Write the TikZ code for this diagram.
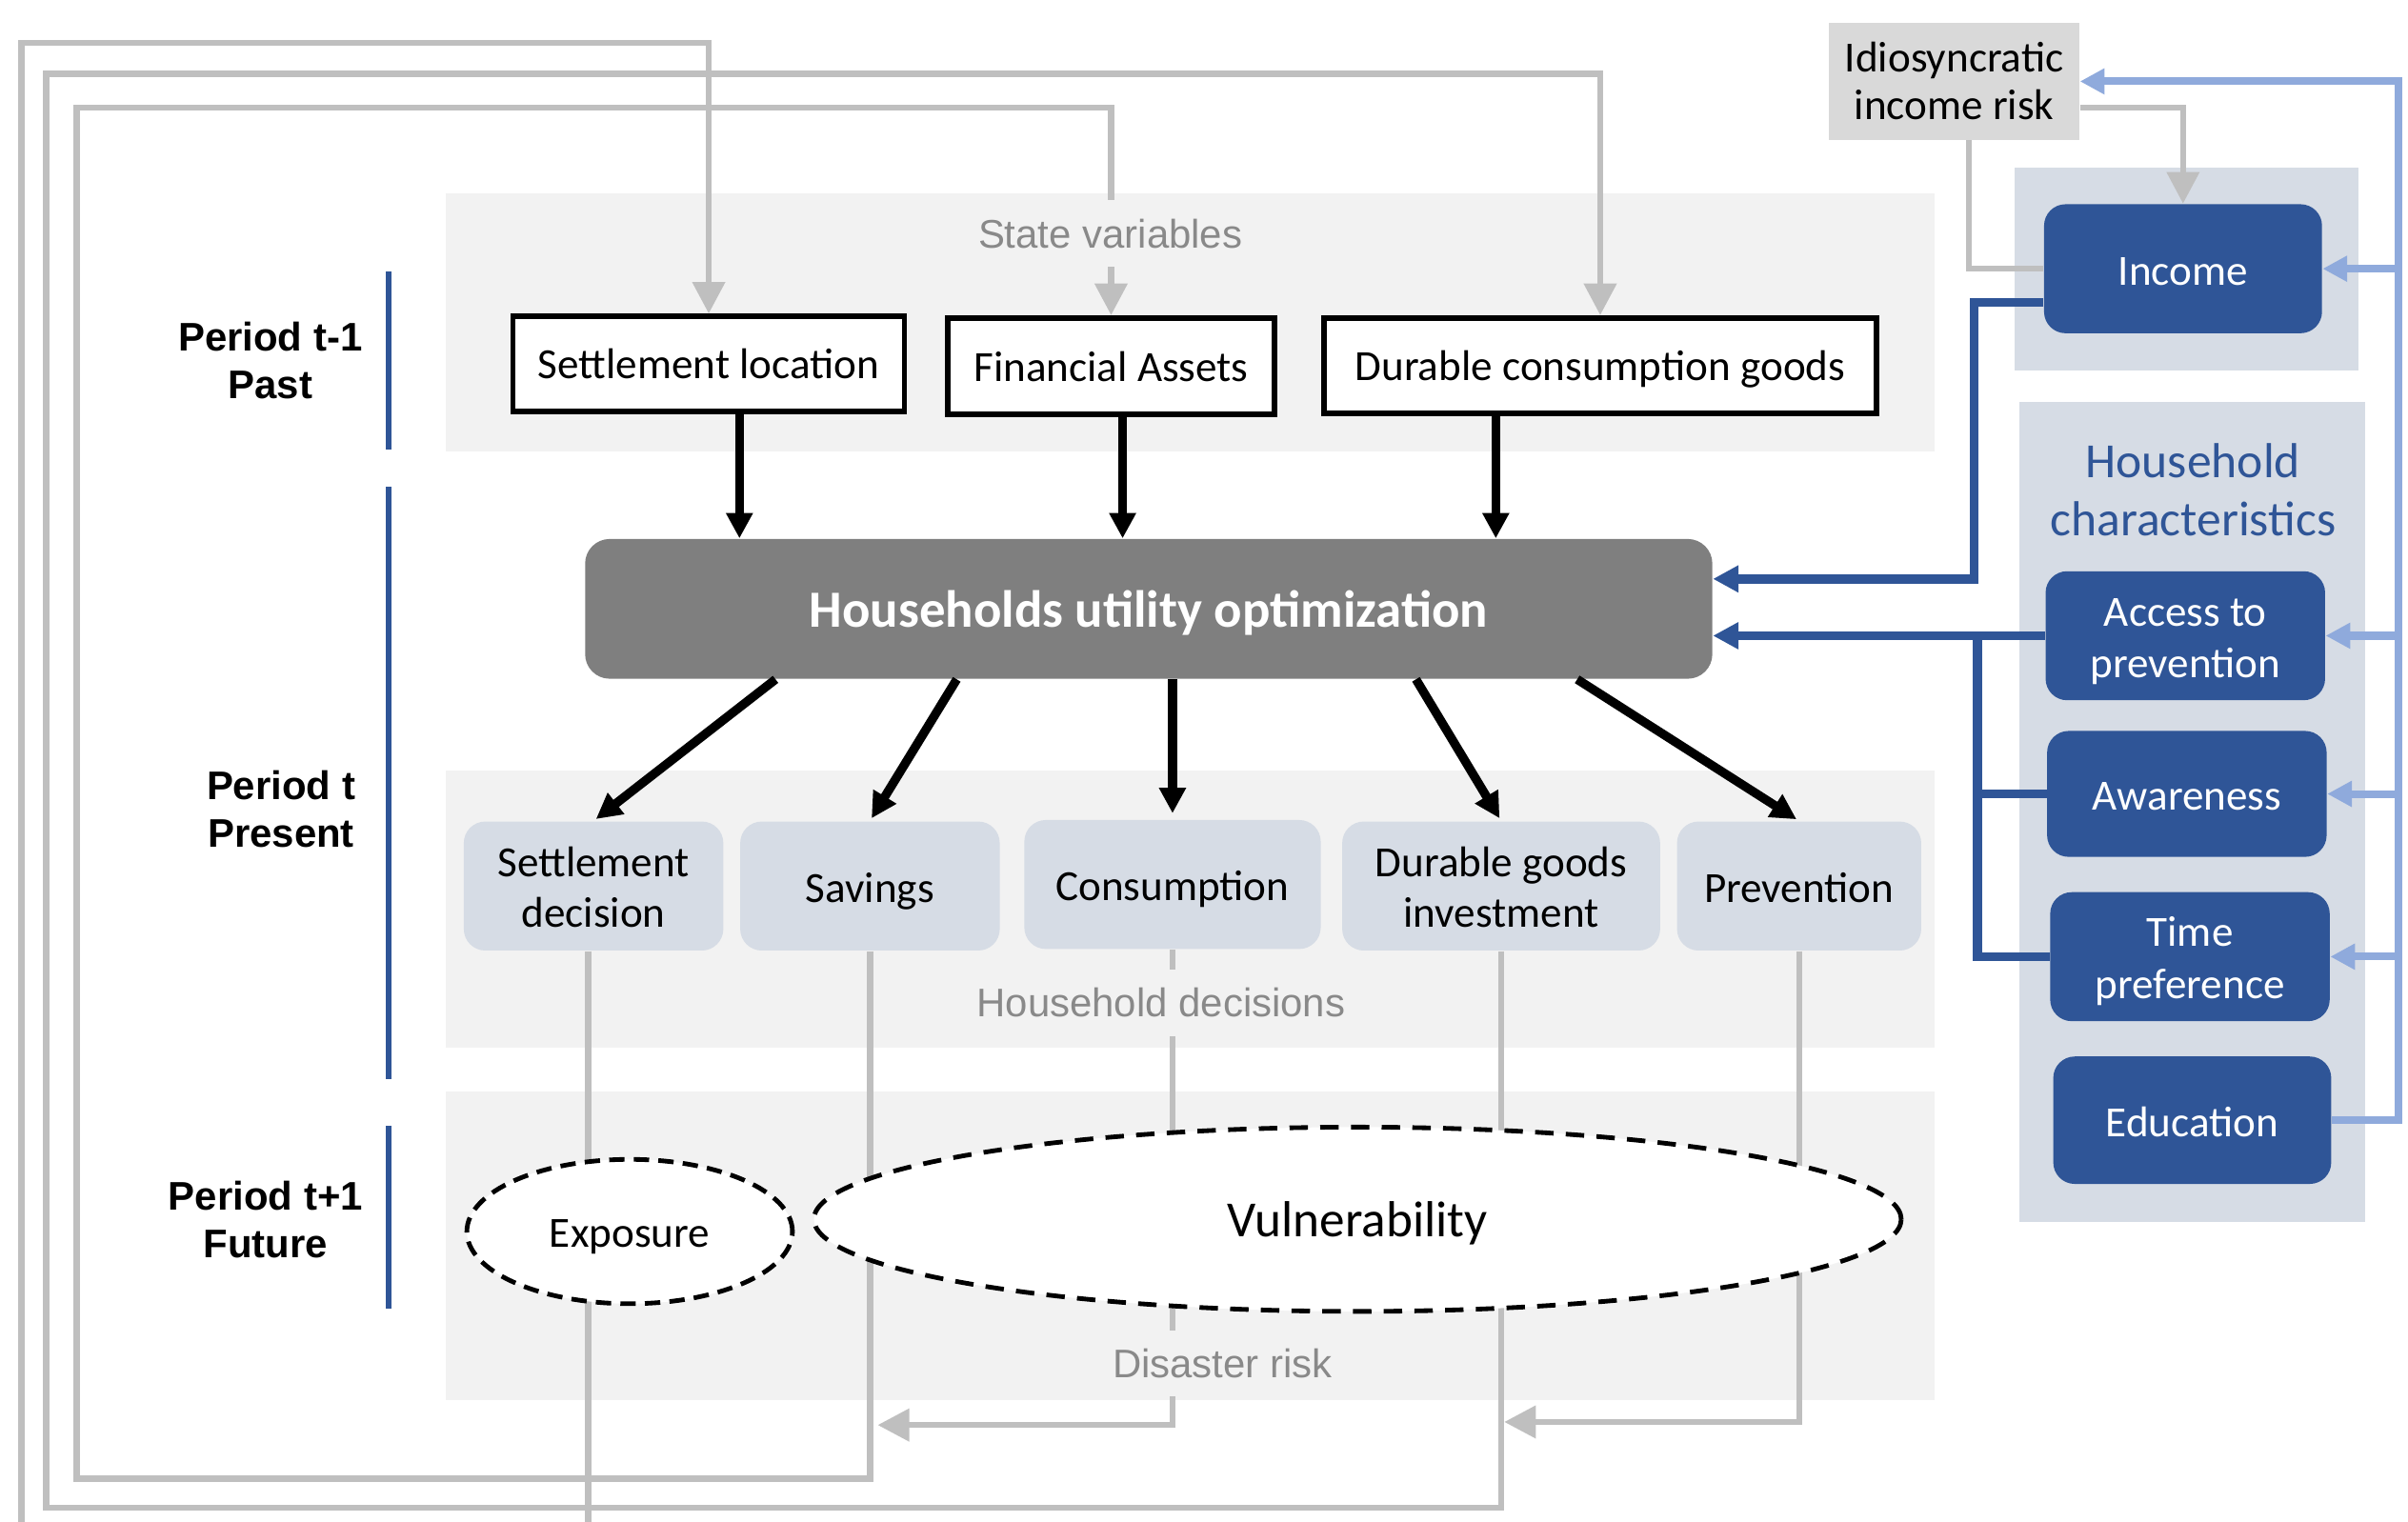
\documentclass[tikz,border=0pt]{standalone}
\usepackage{fontspec}
\setmainfont{Carlito}
\newfontfamily\arialfont{Liberation Sans}
\usetikzlibrary{arrows.meta,shapes.geometric}

\definecolor{darkblue}{HTML}{2F5597}
\definecolor{lightblue}{HTML}{8FAADC}
\definecolor{panelblue}{HTML}{D6DCE5}
\definecolor{panelgray}{HTML}{F2F2F2}
\definecolor{linegray}{HTML}{BFBFBF}
\definecolor{labelgray}{HTML}{898989}
\definecolor{boxgray}{HTML}{7F7F7F}
\definecolor{riskgray}{HTML}{D9D9D9}

\tikzset{
  statebox/.style={draw=black,line width=1.75pt,fill=white,inner sep=0pt,
    text height=9.8pt,text depth=0pt,font=\fontsize{14}{17}\selectfont},
  decbox/.style={fill=panelblue,rounded corners=7pt,inner sep=0pt,align=center,
    text height=10.5pt,text depth=0pt,font=\fontsize{14}{16.5}\selectfont},
  decpair/.style={decbox,text height=27pt},
  charbox/.style={fill=darkblue,text=white,rounded corners=7pt,inner sep=0pt,
    align=center,text height=10.5pt,text depth=0pt,font=\fontsize{14}{17}\selectfont},
  charpair/.style={charbox,text height=27.5pt},
  panellabel/.style={fill=panelgray,text=labelgray,inner xsep=3pt,inner ysep=6pt,
    font=\arialfont\fontsize{13}{15}\selectfont},
  periodlabel/.style={align=center,font=\arialfont\bfseries\fontsize{13}{15.5}\selectfont},
  outcome/.style={draw=black,ellipse,line width=1.5pt,fill=white,inner sep=0pt,text depth=0pt},
  blk/.style={draw=black,line width=2.9pt,-{Triangle[width=8.3pt,length=8.3pt]}},
  fb/.style={draw=linegray,line width=2pt},
  fbarrow/.style={fb,-{Triangle[width=10.3pt,length=10.3pt]}},
  dbline/.style={draw=darkblue,line width=2.9pt},
  dbarrow/.style={dbline,-{Triangle[width=8.3pt,length=8.3pt]}},
  lbarrow/.style={draw=lightblue,line width=2.5pt,-{Triangle[width=8pt,length=8pt]}}
}

\begin{document}
\begin{tikzpicture}[x=0.5pt,y=-0.5pt]
  \useasboundingbox (0,0) rectangle (1568,991);

  % Panels
  \fill[panelgray] (290,126) rectangle (1260,294);
  \fill[panelgray] (290,502) rectangle (1260,682);
  \fill[panelgray] (290,711) rectangle (1260,912);
  \fill[panelblue] (1312,109) rectangle (1536,241);
  \fill[panelblue] (1315,262) rectangle (1540,796);

  % Periods
  \node[periodlabel] (pastlbl) at (176,235) {Period t-1\\Past};
  \node[periodlabel] (preslbl) at (183,527) {Period t\\Present};
  \node[periodlabel] (futlbl) at (173,794) {Period t+1\\Future};
  \draw[darkblue,line width=2pt] (253,177) -- (253,293);
  \draw[darkblue,line width=2pt] (253,317) -- (253,703);
  \draw[darkblue,line width=2pt] (253,733) -- (253,852);

  % State variables
  \node[statebox,minimum width=127.5pt,minimum height=31pt] (sloc) at (461.5,237) {Settlement location};
  \node[statebox,minimum width=106.5pt,minimum height=31.5pt] (fin) at (723.5,238.5) {Financial Assets};
  \node[statebox,minimum width=180pt,minimum height=31pt] (dur) at (1042,238) {Durable consumption goods};

  % Optimization and decisions
  \node[fill=boxgray,text=white,rounded corners=8pt,inner sep=0pt,minimum width=367pt,minimum height=45.5pt,
    text height=11.9pt,text depth=0pt,font=\bfseries\fontsize{17}{20}\selectfont] (util) at (748,396.5)
    {Households utility optimization};
  \node[decpair,minimum width=84.5pt,minimum height=42pt] (sdec) at (386.5,577) {Settlement\\decision};
  \node[decbox,minimum width=84.5pt,minimum height=42pt] (sav) at (566.5,577) {Savings};
  \node[decbox,minimum width=96.5pt,minimum height=42pt] (cons) at (763.5,576) {Consumption};
  \node[decpair,minimum width=103.5pt,minimum height=42pt] (dinv) at (977.5,577) {Durable goods\\investment};
  \node[decbox,minimum width=79.5pt,minimum height=42pt] (prev) at (1171.5,577) {Prevention};

  % Household side
  \node[fill=riskgray,inner sep=0pt,minimum width=81.5pt,minimum height=38pt,align=center,
    font=\fontsize{14}{15.5}\selectfont] (risk) at (1272.5,53) {Idiosyncratic\\income risk};
  \node[charbox,minimum width=90.5pt,minimum height=42pt] (inc) at (1421.5,175) {Income};
  \node[text=darkblue,align=center,font=\fontsize{16}{19}\selectfont] (hhchar) at (1428,319) {Household\\characteristics};
  \node[charpair,minimum width=91pt,minimum height=42pt] (acc) at (1423,414) {Access to\\prevention};
  \node[charbox,minimum width=91pt,minimum height=41pt] (awa) at (1424,517) {Awareness};
  \node[charpair,minimum width=91pt,minimum height=42pt] (time) at (1426,623) {Time\\preference};
  \node[charbox,minimum width=90.5pt,minimum height=41.5pt] (edu) at (1427.5,729.5) {Education};

  % Feedback to next period
  \coordinate (topA) at (14,28);
  \coordinate (topB) at (30,48);
  \coordinate (topC) at (50,70);
  \coordinate (botA) at (14,1010);
  \coordinate (botB) at (30,982);
  \coordinate (botC) at (50,963);
  \coordinate (csav) at (0,928);
  \coordinate (pdur) at (0,926);
  \draw[fbarrow] ([xshift=-1.75pt]sdec.south) |- (botA) -- (topA) -| (sloc.north);
  \draw[fbarrow] (dinv.south) |- (botB) -- (topB) -| (dur.north);
  \draw[fbarrow] (sav.south) |- (botC) -- (topC) -| (fin.north);
  \draw[fbarrow,shorten >=2.5pt] (cons.south) |- (sav.south |- csav);
  \draw[fbarrow,shorten >=1pt] (prev.south) |- (dinv.south |- pdur);

  % State variables into optimization
  \draw[blk] ([xshift=10pt]sloc.south) -- ([xshift=10pt]sloc.south |- util.north);
  \draw[blk] ([xshift=3.75pt]fin.south) -- ([xshift=3.75pt]fin.south |- util.north);
  \draw[blk] ([xshift=-34pt]dur.south) -- ([xshift=-34pt]dur.south |- util.north);

  % Optimization into decisions
  \draw[blk,shorten >=1pt] ([xshift=-121.5pt]util.south) -- (sdec.north);
  \draw[blk,shorten >=1pt] ([xshift=-62.5pt]util.south) -- (sav.north);
  \draw[blk,shorten >=2pt] (cons.north |- util.south) -- (cons.north);
  \draw[blk,shorten >=1pt] ([xshift=87pt]util.south) -- (dinv.north);
  \draw[blk,shorten >=1pt] ([xshift=139.5pt]util.south) -- (prev.north);

  % Income risk
  \draw[fbarrow] ([yshift=-8.5pt]risk.east) -| (inc.north);
  \draw[fb] ([xshift=4.75pt]risk.south) |- (inc.west);

  % Characteristics into optimization
  \draw[dbarrow] ([yshift=-11pt]inc.west) -- ++(-45,0) |- ([yshift=9.75pt]util.east);
  \draw[dbarrow] (acc.west) -- (acc.west -| util.east);
  \draw[dbline] (awa.west) -- ++(-45,0);
  \draw[dbline] (time.west) -| ([xshift=-22pt]acc.west);

  % Education
  \coordinate (rlane) at (1562,0);
  \draw[lbarrow] (edu.east) -| (rlane |- risk.east) -- (risk.east);
  \draw[lbarrow] (rlane |- inc.east) -- (inc.east);
  \draw[lbarrow] (rlane |- acc.east) -- (acc.east);
  \draw[lbarrow] (rlane |- awa.east) -- (awa.east);
  \draw[lbarrow] (rlane |- time.east) -- (time.east);

  % Panel labels
  \node[panellabel] (statelbl) at (723,152) {State variables};
  \node[panellabel] (declbl) at (756,653) {Household decisions};
  \node[panellabel] (risklbl) at (796,888) {Disaster risk};

  % Future outcomes
  \node[outcome,dash pattern=on 5pt off 3pt,minimum width=106pt,minimum height=47pt,text height=10.5pt,
    font=\fontsize{14}{17}\selectfont] (expo) at (410,802) {Exposure};
  \node[outcome,dash pattern=on 6pt off 4pt,minimum width=354pt,minimum height=60pt,text height=11.5pt,
    font=\fontsize{16.5}{20}\selectfont] (vuln) at (884,794) {Vulnerability};
\end{tikzpicture}
\end{document}
